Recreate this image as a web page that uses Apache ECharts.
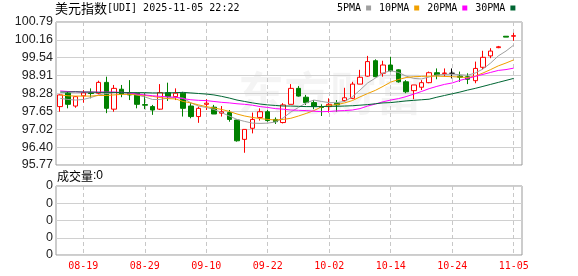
<!DOCTYPE html>
<html><head><meta charset="utf-8">
<script src="https://cdn.jsdelivr.net/npm/echarts@6/dist/echarts.min.js"></script>
<style>html,body{margin:0;padding:0;background:#fff}#c{width:578px;height:276px}</style>
</head><body><div id="c"></div>
<script>
const dates = ['08-14','08-15','08-18','08-19','08-20','08-21','08-22','08-25','08-26','08-27','08-28','08-29',
 '09-01','09-02','09-03','09-04','09-05','09-08','09-09','09-10','09-11','09-12','09-15','09-16','09-17','09-18','09-19','09-22',
 '09-23','09-24','09-25','09-26','09-29','09-30','10-01','10-02','10-03','10-06','10-07','10-08','10-09','10-10','10-13','10-14',
 '10-15','10-16','10-17','10-20','10-21','10-22','10-23','10-24','10-27','10-28','10-29','10-30','10-31','11-03','11-04','11-05'];
const openV = [97.82,98.29,97.84,98.20,98.30,98.29,98.67,97.73,98.43,98.29,
 98.29,97.89,97.82,97.73,98.31,98.17,98.29,97.84,97.47,97.90,
 97.80,97.59,97.61,97.35,96.67,97.06,97.44,97.64,97.37,97.26,
 97.90,98.46,98.15,97.96,97.82,97.82,97.94,98.03,98.11,98.61,
 98.89,99.43,98.99,99.28,99.11,98.69,98.38,98.50,98.66,99.01,
 98.98,98.99,98.89,98.87,98.73,99.20,99.60,99.89,100.29,100.29];
const closeV = [98.23,97.90,98.17,98.30,98.28,98.67,97.76,98.46,98.26,98.23,
 97.90,97.87,97.70,98.31,98.17,98.29,97.76,97.47,97.76,97.94,
 97.56,97.64,97.37,96.62,97.02,97.37,97.64,97.33,97.29,97.88,
 98.46,98.19,97.96,97.82,97.79,97.90,97.88,98.13,98.61,98.85,
 99.40,98.87,99.28,99.08,98.69,98.34,98.58,98.66,99.01,98.93,
 99.00,98.99,98.85,98.78,99.16,99.55,99.77,99.92,100.26,100.31];
const lowV = [97.64,97.76,97.78,97.96,98.11,98.25,97.59,97.64,98.15,98.05,
 97.76,97.73,97.53,97.70,98.02,98.05,97.47,97.41,97.25,97.70,
 97.56,97.47,97.29,96.59,96.20,96.88,97.33,97.29,97.21,97.23,
 97.90,98.17,97.88,97.73,97.49,97.61,97.64,97.99,98.08,98.61,
 98.87,98.85,98.87,99.05,98.66,98.29,98.08,98.40,98.64,98.78,
 98.87,98.81,98.69,98.61,98.64,99.13,99.52,99.87,100.26,100.13];
const highV = [98.25,98.34,98.19,98.40,98.46,98.73,98.87,98.58,98.58,98.75,
 98.30,98.29,97.88,98.61,98.66,98.46,98.34,97.94,97.82,98.08,
 97.88,97.84,97.70,97.37,97.02,97.61,97.76,97.70,97.44,97.94,
 98.61,98.54,98.23,98.05,97.90,98.11,98.05,98.48,98.69,99.11,
 99.60,99.48,99.43,99.57,99.13,98.75,98.58,98.75,99.05,99.16,
 99.16,99.16,99.05,98.99,99.40,99.78,99.87,99.95,100.29,100.41];
const ma5 = [98.11,98.07,98.05,98.07,98.14,98.23,98.28,98.30,98.32,98.30,
 98.23,98.16,98.07,98.07,98.12,98.14,98.12,97.95,97.84,97.79,
 97.72,97.61,97.49,97.37,97.30,97.24,97.23,97.24,97.28,97.42,
 97.63,97.79,97.95,98.05,98.00,97.96,97.96,98.00,98.16,98.40,
 98.65,98.82,99.00,99.08,99.02,98.89,98.81,98.79,98.86,98.93,
 98.95,98.96,98.94,98.92,99.00,99.14,99.35,99.60,99.77,99.98];
const ma10 = [98.23,98.20,98.19,98.19,98.19,98.21,98.21,98.23,98.25,98.25,
 98.23,98.21,98.18,98.14,98.10,98.09,98.00,97.95,97.88,97.82,
 97.77,97.72,97.65,97.56,97.49,97.44,97.40,97.37,97.35,97.37,
 97.41,97.49,97.58,97.68,97.81,97.86,97.89,97.95,98.03,98.16,
 98.28,98.39,98.53,98.68,98.77,98.84,98.87,98.88,98.89,98.89,
 98.88,98.87,98.86,98.84,98.89,99.00,99.12,99.25,99.35,99.46];
const ma20 = [98.37,98.35,98.34,98.33,98.33,98.33,98.33,98.33,98.32,98.30,
 98.26,98.23,98.20,98.18,98.16,98.15,98.10,98.06,98.04,98.03,
 98.00,97.97,97.95,97.92,97.90,97.87,97.82,97.79,97.75,97.73,
 97.70,97.69,97.68,97.66,97.64,97.65,97.67,97.68,97.70,97.75,
 97.84,97.91,97.99,98.05,98.10,98.17,98.26,98.35,98.45,98.53,
 98.60,98.65,98.74,98.81,98.88,98.95,99.02,99.09,99.12,99.17];
const ma30 = [98.33,98.33,98.34,98.33,98.33,98.32,98.32,98.32,98.31,98.31,
 98.31,98.31,98.30,98.30,98.30,98.31,98.32,98.30,98.28,98.26,
 98.23,98.18,98.12,98.05,98.00,97.95,97.91,97.88,97.86,97.84,
 97.84,97.83,97.82,97.82,97.82,97.83,97.83,97.84,97.85,97.87,
 97.89,97.92,97.95,97.96,97.99,98.02,98.04,98.06,98.08,98.15,
 98.21,98.27,98.33,98.40,98.46,98.53,98.60,98.67,98.74,98.81];
const yTicks = [95.77,96.40,97.02,97.65,98.28,98.91,99.54,100.16,100.79];
const xLabels = ['08-19','08-29','09-10','09-22','10-02','10-14','10-24','11-05'];
const maNames = ['5PMA','10PMA','20PMA','30PMA'];
const maColors = ['#a0a0a0','#f0a000','#ff00ff','#006633'];

const xTickIdx = xLabels.map(l => dates.indexOf(l));
const candleData = dates.map((d, i) => {
  const item = {value: [i, openV[i], closeV[i], lowV[i], highV[i]]};
  if (openV[i] === closeV[i]) {
    item.itemStyle = {color:'#000', color0:'#000', borderColor:'#000', borderColor0:'#000', borderColorDoji:'#000'};
  }
  return item;
});
const maSeries = [ma5, ma10, ma20, ma30].map((arr, k) => ({
  name: maNames[k], type: 'line', xAxisIndex: 0, yAxisIndex: 0,
  data: arr.map((v, i) => [i, v]), showSymbol: false, symbol: 'none',
  color: maColors[k], lineStyle: {width: 1, color: maColors[k]}, silent: true, z: 3
}));

const xBase = {type:'value', min:-0.55, max:60.08, axisLine:{show:false},
  axisTick:{show:false, customValues:xTickIdx},
  splitLine:{show:true, lineStyle:{color:'#c8c8c8', type:[4,3], width:1}}};

const chart = echarts.init(document.getElementById('c'), null, {renderer:'canvas'});
chart.setOption({
  animation: false,
  backgroundColor: '#fff',
  title: [
    {left:55, top:2, padding:0, text:'{a|美元指数}{b|[UDI] 2025-11-05 22:22}',
     textStyle:{fontWeight:'normal', rich:{a:{fontFamily:'Noto Sans CJK SC', fontSize:13, fontWeight:'normal', color:'#000'},
                      b:{fontFamily:'DejaVu Sans Mono', fontSize:10, fontWeight:'normal', color:'#000'}}}},
    {left:57, top:170, padding:0, text:'{a|成交量}{b|:0}',
     textStyle:{fontWeight:'normal', rich:{a:{fontFamily:'Noto Sans CJK SC', fontSize:12, fontWeight:'normal', color:'#000'},
                      b:{fontFamily:'Liberation Sans', fontSize:12, fontWeight:'normal', color:'#000'}}}}
  ],
  legend: {left:337, top:3, padding:0, itemWidth:5, itemHeight:5, itemGap:8, align:'right',
    icon:'rect', selectedMode:false, data: maNames,
    textStyle:{fontFamily:'DejaVu Sans Mono', fontSize:10, color:'#000'}},
  graphic: [{type:'text', left:238, top:70, z:-1, silent:true,
    style:{text:'东方财富', font:'bold 46px "Noto Sans CJK SC"', fill:'rgba(0,0,0,0.045)'}}],
  grid: [
    {left:56, top:22, width:466, height:143, show:true, borderColor:'#999', borderWidth:1, backgroundColor:'transparent'},
    {left:56, top:186, width:466, height:69, show:true, borderColor:'#999', borderWidth:1, backgroundColor:'transparent'}
  ],
  xAxis: [
    Object.assign({gridIndex:0, axisLabel:{show:false}}, xBase),
    Object.assign({gridIndex:1, axisLabel:{show:true, customValues:xTickIdx, formatter: v => dates[v],
      color:'#ff0000', fontFamily:'DejaVu Sans Mono', fontSize:10, margin:6}}, xBase)
  ],
  yAxis: [
    {type:'value', gridIndex:0, min:95.77, max:100.79, axisLine:{show:false},
     axisTick:{show:false, customValues:yTicks},
     axisLabel:{customValues:yTicks, formatter: v => v.toFixed(2), color:'#222',
       fontFamily:'Liberation Sans', fontSize:12.5, margin:3},
     splitLine:{show:true, lineStyle:{color:'#d0d0d0', width:1}}},
    {type:'value', gridIndex:1, min:0, max:4, interval:1, axisLine:{show:false}, axisTick:{show:false},
     axisLabel:{formatter: () => '0', color:'#222', fontFamily:'Liberation Sans', fontSize:12.5, margin:3},
     splitLine:{show:true, lineStyle:{color:'#d0d0d0', width:1}}}
  ],
  series: [
    {type:'candlestick', name:'K', xAxisIndex:0, yAxisIndex:0, barWidth:5, data:candleData, z:2,
     itemStyle:{color:'#fff', color0:'#008000', borderColor:'#ff0000', borderColor0:'#008000', borderWidth:1}}
  ].concat(maSeries)
});
</script></body></html>
